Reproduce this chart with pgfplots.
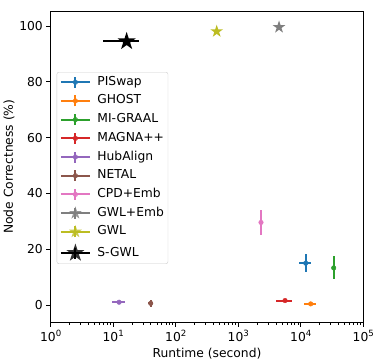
\documentclass[border=0pt]{standalone}
\usepackage{fontspec}
\setmainfont{DejaVu Sans}
\usepackage{pgfplots}
\pgfplotsset{compat=1.18}
\definecolor{c1}{HTML}{1F77B4}
\definecolor{c2}{HTML}{FF7F0E}
\definecolor{c3}{HTML}{2CA02C}
\definecolor{c4}{HTML}{D62728}
\definecolor{c5}{HTML}{9467BD}
\definecolor{c6}{HTML}{8C564B}
\definecolor{c7}{HTML}{E377C2}
\definecolor{c8}{HTML}{7F7F7F}
\definecolor{c9}{HTML}{BCBD22}
\pgfdeclareplotmark{fstar}{%
\pgfpathmoveto{\pgfpointpolar{90}{\pgfplotmarksize}}%
\pgfpathlineto{\pgfpointpolar{126}{0.382\pgfplotmarksize}}%
\pgfpathlineto{\pgfpointpolar{162}{\pgfplotmarksize}}%
\pgfpathlineto{\pgfpointpolar{198}{0.382\pgfplotmarksize}}%
\pgfpathlineto{\pgfpointpolar{234}{\pgfplotmarksize}}%
\pgfpathlineto{\pgfpointpolar{270}{0.382\pgfplotmarksize}}%
\pgfpathlineto{\pgfpointpolar{306}{\pgfplotmarksize}}%
\pgfpathlineto{\pgfpointpolar{342}{0.382\pgfplotmarksize}}%
\pgfpathlineto{\pgfpointpolar{18}{\pgfplotmarksize}}%
\pgfpathlineto{\pgfpointpolar{54}{0.382\pgfplotmarksize}}%
\pgfpathclose\pgfusepathqfill}
\newcommand{\tp}[1]{10\raisebox{0.42em}{\fontsize{8.6}{10}\selectfont #1}}
\begin{document}
\begin{tikzpicture}[font=\fontsize{12.3}{14.8}\selectfont]
\begin{axis}[name=ax, xmode=log, scale only axis, width=312.6pt, height=311.3pt,
  xmin=1, xmax=1e5, ymin=-6.2, ymax=105.4,
  ytick={0,20,40,60,80,100},
  xtick={1,10,100,1000,10000,100000},
  xticklabels={\tp{0},\tp{1},\tp{2},\tp{3},\tp{4},\tp{5}},
  /pgf/number format/assume math mode=true,
  tick align=outside, tick pos=left,
  major tick length=4.4pt, minor tick length=2.5pt,
  every tick/.style={black, line width=0.8pt},
  axis line style={line width=0.8pt},
  xlabel={Runtime (second)}, ylabel={Node Correctness (\%)},
  xlabel style={at={(axis description cs:0.5,-0.1115)}, anchor=base},
  ylabel style={at={(axis description cs:-0.1206,0.5)}, anchor=base},
  legend cell align=left,
  legend style={at={(0.0192,0.804)}, anchor=north west, draw=black!20, rounded corners=2pt,
    fill=white, fill opacity=0.8, text opacity=1, inner sep=3pt,
    row sep=4.7pt, column sep=5.5pt,
    nodes={inner sep=1pt, text height=9pt, text depth=3pt}},
  legend image code/.code={
    \draw[line width=2pt, mark=none, solid] (0pt,0pt) -- (29pt,0pt);
    \draw[line width=2pt, mark=none, solid] (14.5pt,-5.5pt) -- (14.5pt,5.5pt);
    \draw plot coordinates {(14.5pt,0pt)};
  },
  eb/.style={only marks, error bars/.cd, x dir=both, x explicit, y dir=both, y explicit,
    error mark=none, error bar style={line width=2pt, solid}},
]
\addplot[color=c1, mark=*, mark size=2.3pt, eb] coordinates {(12000,15.0) +- (2500,3.2)};
\addlegendentry{PISwap}
\addplot[color=c2, mark=*, mark size=2.3pt, eb] coordinates {(14400,0.4) +- (3100,0.4)};
\addlegendentry{GHOST}
\addplot[color=c3, mark=*, mark size=2.3pt, eb] coordinates {(33600,13.3) +- (800,4.1)};
\addlegendentry{MI-GRAAL}
\addplot[color=c4, mark=*, mark size=2.3pt, eb] coordinates {(5600,1.6) +- (1600,0.4)};
\addlegendentry{MAGNA++}
\addplot[color=c5, mark=*, mark size=2.3pt, eb] coordinates {(12.4,1.0) +- (3.0,0.5)};
\addlegendentry{HubAlign}
\addplot[color=c6, mark=*, mark size=2.3pt, eb] coordinates {(39.8,0.6) +- (3.5,1.3)};
\addlegendentry{NETAL}
\addplot[color=c7, mark=*, mark size=2.3pt, eb] coordinates {(2310,29.6) +- (80,4.4)};
\addlegendentry{CPD+Emb}
\addplot[color=c8, mark=fstar, mark size=6.7pt, eb] coordinates {(4490,99.6) +- (0,0)};
\addlegendentry{GWL+Emb}
\addplot[color=c9, mark=fstar, mark size=6.7pt, eb] coordinates {(452,98.1) +- (0,0)};
\addlegendentry{GWL}
\addplot[color=black, mark=fstar, mark size=9.5pt, eb] coordinates {(16.4,94.5) +- (9.6,0.3)};
\addlegendentry{S-GWL}
\end{axis}
\pgfresetboundingbox
\path ([xshift=-50.7pt,yshift=-38.7pt]ax.south west) rectangle ([xshift=10.7pt,yshift=11pt]ax.north east);
\end{tikzpicture}
\end{document}
